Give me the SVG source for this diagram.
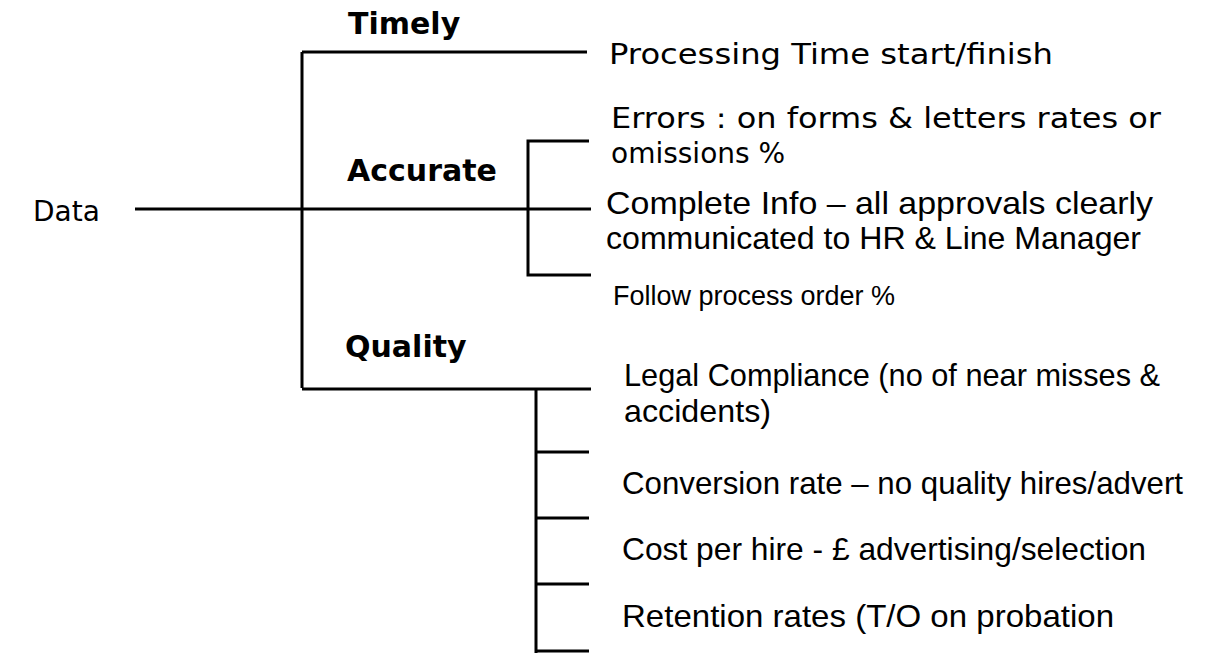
<svg xmlns="http://www.w3.org/2000/svg" width="1214" height="661" viewBox="0 0 1214 661">
  <style>
    .ln { stroke: #000; stroke-width: 3; fill: none; }
    .hd { font-family: "DejaVu Sans", Verdana, sans-serif; font-weight: bold; font-size: 30px; fill: #000; }
    .vd { font-family: "DejaVu Sans", Verdana, sans-serif; font-size: 28px; fill: #000; }
    .ar { font-family: "Liberation Sans", Arial, sans-serif; font-size: 32px; fill: #000; }
    .ar-sm { font-family: "Liberation Sans", Arial, sans-serif; font-size: 27px; fill: #000; }
  </style>
  <rect width="1214" height="661" fill="#fff"/>

  <!-- connectors -->
  <g id="connectors">
    <line class="ln" x1="302" y1="52" x2="302" y2="388"/>
    <line class="ln" x1="302" y1="52" x2="587" y2="52"/>
    <line class="ln" x1="135" y1="209" x2="591" y2="209"/>
    <line class="ln" x1="302" y1="389" x2="591" y2="389"/>
    <path class="ln" d="M589,141 H528 V275 H591"/>
    <line class="ln" x1="536" y1="389" x2="536" y2="653"/>
    <line class="ln" x1="536" y1="452" x2="589" y2="452"/>
    <line class="ln" x1="536" y1="518" x2="589" y2="518"/>
    <line class="ln" x1="536" y1="584" x2="589" y2="584"/>
    <line class="ln" x1="536" y1="651" x2="589" y2="651"/>
  </g>

  <g id="data"><text class="vd" x="33" y="221" font-size="26">Data</text></g>

  <g id="timely"><text class="hd" x="348" y="34">Timely</text></g>
  <g id="accurate"><text class="hd" x="347" y="181">Accurate</text></g>
  <g id="quality"><text class="hd" x="345" y="357">Quality</text></g>

  <g id="processing-time"><text class="vd" x="609" y="64" textLength="444" lengthAdjust="spacingAndGlyphs">Processing Time start/finish</text></g>
  <g id="errors">
    <text class="vd" x="611" y="128" textLength="550" lengthAdjust="spacingAndGlyphs">Errors :  on forms &amp; letters rates or</text>
    <text class="vd" x="611" y="163">omissions %</text>
  </g>
  <g id="complete-info">
    <text class="ar" x="606" y="214" textLength="547" lengthAdjust="spacingAndGlyphs">Complete Info – all approvals clearly</text>
    <text class="ar" x="606" y="249" textLength="535" lengthAdjust="spacingAndGlyphs">communicated to HR &amp; Line Manager</text>
  </g>
  <g id="follow-process"><text class="ar-sm" x="613" y="305">Follow process order %</text></g>
  <g id="legal-compliance">
    <text class="ar" x="624" y="386" textLength="536" lengthAdjust="spacingAndGlyphs">Legal Compliance (no of near misses &amp;</text>
    <text class="ar" x="624" y="422" textLength="147" lengthAdjust="spacingAndGlyphs">accidents)</text>
  </g>
  <g id="conversion-rate"><text class="ar" x="622" y="494" textLength="561" lengthAdjust="spacingAndGlyphs">Conversion rate – no quality hires/advert</text></g>
  <g id="cost-per-hire"><text class="ar" x="622" y="560" textLength="524" lengthAdjust="spacingAndGlyphs">Cost per hire - £ advertising/selection</text></g>
  <g id="retention-rates"><text class="ar" x="622" y="627" textLength="492" lengthAdjust="spacingAndGlyphs">Retention rates (T/O on probation</text></g>
</svg>
